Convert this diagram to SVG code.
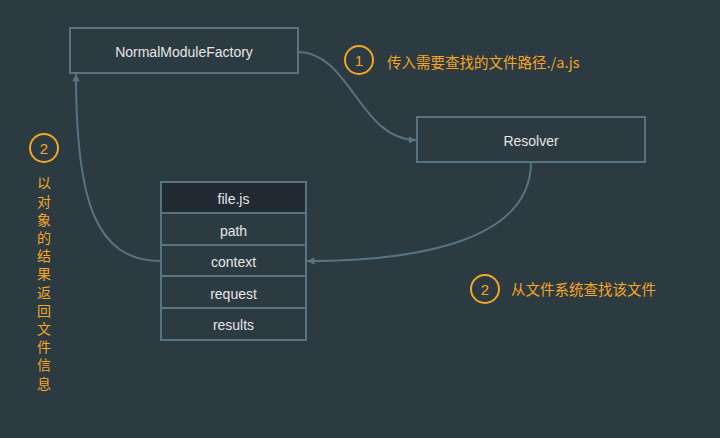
<svg xmlns="http://www.w3.org/2000/svg" width="720" height="438" viewBox="0 0 720 438">
<defs>
<style>
.box{fill:#2c3a42;stroke:#587482;stroke-width:2}
.hdr{fill:#212b31;stroke:#587482;stroke-width:2}
.lbl{font-family:"Liberation Sans",Lato,sans-serif;font-size:14px;fill:#e6e6e6;text-anchor:middle;dominant-baseline:central}
.edge{fill:none;stroke:#587482;stroke-width:2}
.num{fill:none;stroke:#f5a623;stroke-width:2}
.ntx{font-family:"Liberation Sans",sans-serif;font-size:15px;fill:#f5a623;text-anchor:middle;dominant-baseline:central}
.cn{font-family:"Noto Sans CJK SC",sans-serif;font-size:14.5px;fill:#f5a623;dominant-baseline:central}
.vt{font-family:"Noto Sans CJK SC",sans-serif;font-size:14px;fill:#f5a623;writing-mode:vertical-rl;letter-spacing:4.2px}
</style>
<marker id="arr" viewBox="0 0 10 10" refX="10" refY="5" markerWidth="7.5" markerHeight="7.5" orient="auto" markerUnits="userSpaceOnUse">
<path d="M0,0 L10,5 L0,10 z" fill="#587482"/>
</marker>
</defs>
<rect width="720" height="438" fill="#2c3a42"/>
<g id="connectors">
<path class="edge" d="M298,52 C350,52 360,140 416,140" marker-end="url(#arr)"/>
<path class="edge" d="M531,162 C531,240 420,261 307,261" marker-end="url(#arr)"/>
<path class="edge" d="M161,261 C95,261 76,200 76,74" marker-end="url(#arr)"/>
</g>
<g id="NormalModuleFactory">
<rect class="box" x="70" y="28" width="228" height="45"/>
<text class="lbl" x="184" y="52">NormalModuleFactory</text>
</g>
<g id="Resolver">
<rect class="box" x="417" y="117" width="228" height="45"/>
<text class="lbl" x="531" y="141">Resolver</text>
</g>
<g id="filejs">
<rect class="hdr" x="161" y="182" width="145" height="31"/>
<text class="lbl" x="233.5" y="199">file.js</text>
<rect class="box" x="161" y="213" width="145" height="32"/>
<text class="lbl" x="233.5" y="231">path</text>
<rect class="box" x="161" y="245" width="145" height="31"/>
<text class="lbl" x="233.5" y="262">context</text>
<rect class="box" x="161" y="276" width="145" height="32"/>
<text class="lbl" x="233.5" y="294">request</text>
<rect class="box" x="161" y="308" width="145" height="32"/>
<text class="lbl" x="233.5" y="325">results</text>
</g>
<g id="step1">
<circle class="num" cx="359" cy="60" r="14"/>
<text class="ntx" x="359" y="60">1</text>
<text class="cn" x="387" y="61">传入需要查找的文件路径./a.js</text>
</g>
<g id="step2right">
<circle class="num" cx="485" cy="289" r="14"/>
<text class="ntx" x="485" y="289">2</text>
<text class="cn" x="511" y="288">从文件系统查找该文件</text>
</g>
<g id="step2left">
<circle class="num" cx="44" cy="148" r="14"/>
<text class="ntx" x="44" y="148">2</text>
<text class="vt" x="44" y="176">以对象的结果返回文件信息</text>
</g>
</svg>
